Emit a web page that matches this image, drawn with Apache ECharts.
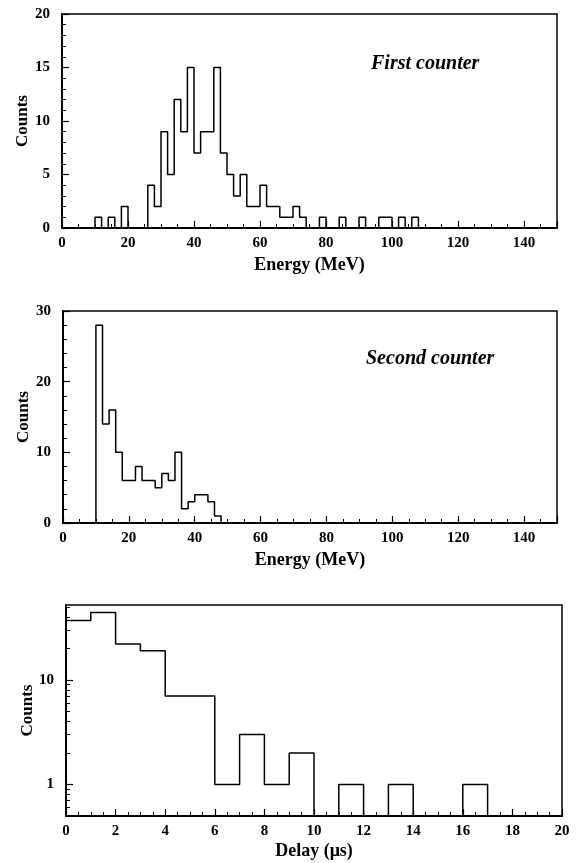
<!DOCTYPE html>
<html><head><meta charset="utf-8">
<script src="https://cdn.jsdelivr.net/npm/echarts@6/dist/echarts.min.js"></script>
<style>html,body{margin:0;padding:0;background:#fff}#c{width:582px;height:863px}</style>
</head><body><div id="c"></div>
<script>
// ---- Data ----
const energyBinWidth = 2;           // MeV
const energyAxisMax = 150;
const firstCounterStart = 0;        // first bin starts at 0 MeV
const firstCounterCounts = [
  0,0,0,0,0, 1,0,1,0,2, 0,0,0,4,2, 9,5,12,9,15,
  7,9,9,15,7, 5,3,5,2,2, 4,2,2,1,1, 2,1,0,0,1,
  0,0,1,0,0, 1,0,0,1,1, 0,1,0,1,0, 0,0,0,0,0,
  0,0,0,0,0, 0,0,0,0,0, 0,0,0,0,0
];
const secondCounterStart = 10;      // first bin starts at 10 MeV
const secondCounterCounts = [28,14,16,10,6,6,8,6,6,5,7,6,10,2,3,4,4,3,1];
const delayBinWidth = 1;            // microseconds
const delayStart = 0;
const delayCounts = [37,44,22,19,7,7,1,3,1,2,0,1,0,1,0,0,1,0,0,0];
const logMajorTicks = [1,10];
const logMinorTicks = [0.6,0.7,0.8,0.9,2,3,4,5,6,7,8,9,20,30,40,50];

// ---- build step series ----
function stepData(start, width, counts, axisEnd, zeroVal) {
  const out = [];
  if (start > 0) out.push([0, zeroVal]);
  counts.forEach((c, i) => out.push([start + i * width, c > 0 ? c : zeroVal]));
  const end = start + counts.length * width;
  out.push([end, zeroVal]);
  if (end < axisEnd) out.push([axisEnd, zeroVal]);
  return out;
}

const FONT = 'Liberation Serif';
const lbl = (extra) => Object.assign({color:'#000', fontFamily:FONT, fontWeight:'bold', fontSize:15}, extra||{});
const axisLine = {show:true, lineStyle:{color:'#000', width:2}};
const tick = {inside:true, length:7, lineStyle:{color:'#000', width:1.2}};
const minor = (n) => ({show:true, splitNumber:n, length:4, lineStyle:{color:'#000', width:1}});

const grids = [
  {left:62, top:14, width:495, height:214},
  {left:63, top:311, width:494, height:212},
  {left:66, top:605, width:496, height:211}
].map(g => Object.assign(g, {show:true, borderColor:'#000', borderWidth:1.5, backgroundColor:'transparent'}));

function energyX(gi) {
  return {type:'value', gridIndex:gi, min:0, max:energyAxisMax, interval:20,
    axisLine, axisTick:tick, minorTick:minor(4), splitLine:{show:false},
    axisLabel:lbl({margin:8, showMaxLabel:false}),
    name:'Energy (MeV)', nameLocation:'middle', nameGap:28, nameMoveOverlap:false,
    nameTextStyle:lbl({fontSize:18})};
}
function countsY(gi, max, interval) {
  return {type:'value', gridIndex:gi, min:0, max, interval,
    axisLine, axisTick:tick, minorTick:minor(5), splitLine:{show:false},
    axisLabel:lbl({margin:12}),
    name:'Counts', nameLocation:'middle', nameGap:31, nameRotate:90, nameMoveOverlap:false,
    nameTextStyle:lbl({fontSize:17})};
}

const lineStyle = {color:'#000', width:1.5};
const titleStyle = {fontFamily:FONT, fontWeight:'bold', fontStyle:'italic', fontSize:20, color:'#000'};
const option = {
  animation:false,
  backgroundColor:'#fff',
  title:[
    {text:'First counter', left:371, top:54, padding:0, textStyle:titleStyle},
    {text:'Second counter', left:366, top:349, padding:0, textStyle:titleStyle}
  ],
  grid:grids,
  xAxis:[
    energyX(0), energyX(1),
    {type:'value', gridIndex:2, min:0, max:20, interval:2,
      axisLine, axisTick:tick, minorTick:minor(4), splitLine:{show:false},
      axisLabel:lbl({margin:8}),
      name:'Delay (μs)', nameLocation:'middle', nameGap:26, nameMoveOverlap:false,
      nameTextStyle:lbl({fontSize:18})}
  ],
  yAxis:[
    countsY(0, 20, 5),
    countsY(1, 30, 10),
    {type:'log', gridIndex:2, logBase:10, min:0.5, max:52, position:'left',
      axisLine, splitLine:{show:false},
      axisTick:Object.assign({}, tick, {customValues:logMajorTicks}),
      axisLabel:lbl({margin:12, customValues:logMajorTicks, formatter:(v)=>String(Math.round(v))}),
      name:'Counts', nameLocation:'middle', nameGap:30, nameRotate:90, nameMoveOverlap:false,
      nameTextStyle:lbl({fontSize:17})},
    {type:'log', gridIndex:2, logBase:10, min:0.5, max:52, position:'left', offset:0,
      axisLine:{show:false}, splitLine:{show:false}, axisLabel:{show:false},
      axisTick:{show:true, inside:true, length:4, lineStyle:{color:'#000', width:1}, customValues:logMinorTicks}}
  ],
  series:[
    {type:'line', xAxisIndex:0, yAxisIndex:0, step:'end', symbol:'none', clip:true, lineStyle,
      data: stepData(firstCounterStart, energyBinWidth, firstCounterCounts, energyAxisMax, 0)},
    {type:'line', xAxisIndex:1, yAxisIndex:1, step:'end', symbol:'none', clip:true, lineStyle,
      data: stepData(secondCounterStart, energyBinWidth, secondCounterCounts, energyAxisMax, 0)},
    {type:'line', xAxisIndex:2, yAxisIndex:2, step:'end', symbol:'none', clip:true, lineStyle,
      data: stepData(delayStart, delayBinWidth, delayCounts, 20, 0.1)}
  ]
};
const chart = echarts.init(document.getElementById('c'), null, {renderer:'canvas'});
chart.setOption(option);
</script>
</body></html>
